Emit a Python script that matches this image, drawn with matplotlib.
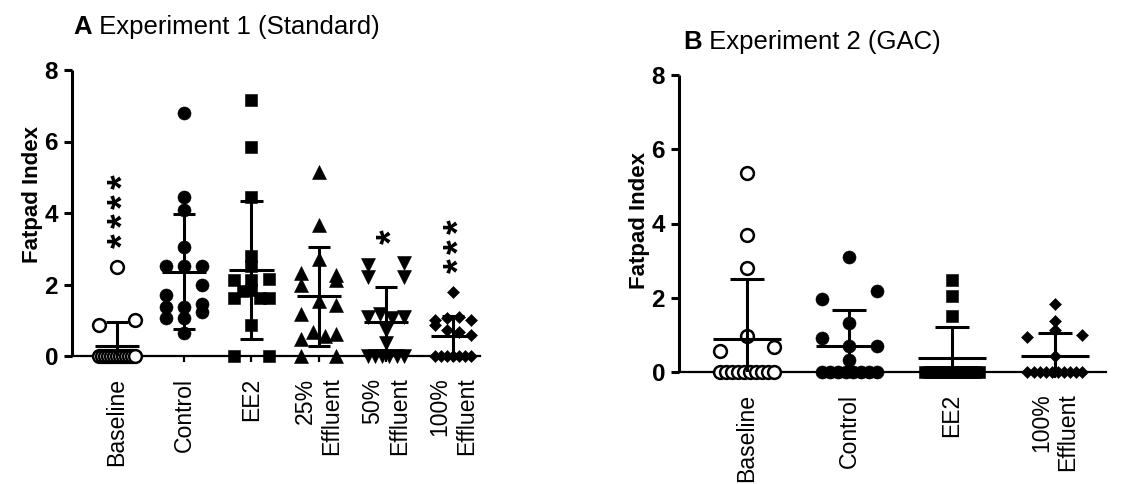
import numpy as np
import matplotlib
matplotlib.use("Agg")
import matplotlib.pyplot as plt

plt.rcParams["font.family"] = ["Liberation Sans", "DejaVu Sans"]

# ---------------- Experiment 1 (standard) ----------------
LABELS_A = ["Baseline", "Control", "EE2", "25%\nEffluent", "50%\nEffluent", "100%\nEffluent"]
BASELINE_A = [2.50, 0.87, 1.00, 0.0, 0.0, 0.0, 0.0, 0.0, 0.0, 0.0, 0.0, 0.0, 0.0, 0.0, 0.0, 0.0]
CONTROL_A = [6.79, 4.44, 4.08, 3.04, 2.53, 2.53, 2.53, 1.71, 1.98, 1.38, 1.38, 1.45,
             1.05, 1.05, 1.24, 0.63]
EE2_A = [7.16, 5.86, 4.44, 2.53, 2.81, 2.12, 2.12, 2.15, 1.61, 1.81, 1.85, 1.61, 1.61,
         0.87, 0.0, 0.0]
EFF25_A = [5.16, 3.66, 2.70, 2.31, 1.99, 2.13, 2.27, 1.54, 1.17, 1.43, 0.47, 0.68, 0.57,
           0.61, 0.0, 0.0]
EFF50_A = [2.55, 2.61, 2.22, 2.22, 1.10, 1.17, 1.05, 1.10, 0.73, 0.36,
           0.0, 0.0, 0.0, 0.0, 0.0, 0.0]
EFF100_A = [1.78, 1.00, 1.05, 1.10, 1.02, 0.87, 0.73, 0.68, 0.60,
            0.0, 0.0, 0.0, 0.0, 0.0, 0.0, 0.0]
SIG_A = ["****", "", "", "", "*", "***"]

# ---------------- Experiment 2 (GAC) ----------------
LABELS_B = ["Baseline", "Control", "EE2", "100%\nEffluent"]
BASELINE_B = [5.36, 3.69, 2.79, 0.98, 0.57, 0.66,
              0.0, 0.0, 0.0, 0.0, 0.0, 0.0, 0.0, 0.0, 0.0, 0.0]
CONTROL_B = [3.11, 1.97, 2.17, 1.31, 0.92, 0.71, 0.71, 0.31,
             0.0, 0.0, 0.0, 0.0, 0.0, 0.0, 0.0, 0.0]
EE2_B = [2.48, 2.05, 1.51, 0.0, 0.0, 0.0, 0.0, 0.0, 0.0, 0.0, 0.0, 0.0, 0.0, 0.0, 0.0, 0.0]
EFF100_B = [1.82, 1.37, 0.95, 1.13, 1.00, 0.43,
            0.0, 0.0, 0.0, 0.0, 0.0, 0.0, 0.0, 0.0, 0.0, 0.0]

Y_TICKS = [0, 2, 4, 6, 8]

# marker styles per group: (marker, size, open)
STYLE_A = [("o", 9.2, True), ("o", 9.4, False), ("s", 8.5, False),
           ("^", 9.4, False), ("v", 9.4, False), ("D", 6.2, False)]
STYLE_B = [("o", 9.2, True), ("o", 9.4, False), ("s", 8.5, False), ("D", 6.2, False)]

LW = 2.2
HALF_SPREAD = 0.265   # max horizontal spread of points within a column
ROW_PX = 10.0         # vertical height of a row bin, pixels

fig = plt.figure(figsize=(11.21, 4.84), dpi=100)
W, H = 1121, 484


def row_offsets(ax, vals):
    """Scatter-dot layout: points closer than ROW_PX share a row and are
    spread evenly across the column width."""
    vals = np.asarray(vals, float)
    ypx = ax.transData.transform(np.column_stack([np.zeros_like(vals), vals]))[:, 1]
    order = np.argsort(ypx, kind="stable")
    bins, cur = [], []
    for i in order:
        if cur and ypx[i] - ypx[cur[0]] > ROW_PX:
            bins.append(cur)
            cur = []
        cur.append(i)
    if cur:
        bins.append(cur)
    offs = np.zeros_like(vals)
    for b in bins:
        b = sorted(b)
        if len(b) > 1:
            offs[b] = np.linspace(-HALF_SPREAD, HALF_SPREAD, len(b))
    return offs


def panel(rect, groups, labels, styles, xlim, sig=None, ylab_pos=(-0.08, 0.5)):
    ax = fig.add_axes(rect)
    ax.set_xlim(*xlim)
    ax.set_ylim(0, 8)
    for s in ("top", "right"):
        ax.spines[s].set_visible(False)
    ax.spines["left"].set_linewidth(LW)
    ax.spines["bottom"].set_linewidth(1.6)
    ax.spines["left"].set_capstyle("butt")

    for i, (vals, (mk, ms, hollow)) in enumerate(zip(groups, styles)):
        vals = np.asarray(vals, float)
        xs = i + row_offsets(ax, vals)
        ax.plot(xs, vals, linestyle="none", marker=mk, markersize=ms,
                markerfacecolor="white" if hollow else "black",
                markeredgecolor="black", markeredgewidth=1.8 if hollow else 0.4,
                clip_on=False, zorder=3)
        m = vals.mean()
        sd = vals.std(ddof=1)
        ax.vlines(i, m - sd, m + sd, color="black", lw=LW, zorder=4)
        ax.hlines([m - sd, m + sd], i - 0.165, i + 0.165, color="black", lw=LW, zorder=4)
        ax.hlines(m, i - 0.33, i + 0.33, color="black", lw=LW, zorder=4)
        if sig and sig[i]:
            top = vals.max()
            for k in range(len(sig[i])):
                ax.annotate("*", xy=(i, top), xytext=(12.5, 19 + 14 * k),
                            textcoords="offset points", rotation=90,
                            rotation_mode="anchor", ha="center", va="baseline",
                            fontsize=27, fontweight="bold", annotation_clip=False)

    ax.set_yticks(Y_TICKS)
    ax.set_yticklabels([str(t) for t in Y_TICKS], fontweight="bold", fontsize=17.5)
    ax.tick_params(axis="y", length=6, width=LW, pad=4)
    ax.set_xticks(range(len(labels)))
    ax.set_xticklabels(labels, rotation=90, fontsize=16.6, ha="center", va="top",
                       multialignment="right")
    ax.tick_params(axis="x", length=4.5, width=1.6, pad=11)
    ax.set_ylabel("Fatpad Index", fontweight="bold", fontsize=16)
    ax.yaxis.set_label_coords(*ylab_pos)
    return ax


axA = panel([72 / W, 1 - 356 / H, 408 / W, 286 / H],
            [BASELINE_A, CONTROL_A, EE2_A, EFF25_A, EFF50_A, EFF100_A],
            LABELS_A, STYLE_A, (-0.67, 5.4), sig=SIG_A, ylab_pos=(-0.072, 0.566))
axB = panel([679 / W, 1 - 372 / H, 427 / W, 297 / H],
            [BASELINE_B, CONTROL_B, EE2_B, EFF100_B],
            LABELS_B, STYLE_B, (-0.66, 3.5), ylab_pos=(-0.068, 0.51))


def title(x_px, y_px, letter, text):
    t = fig.text(x_px / W, 1 - y_px / H, letter, fontweight="bold", fontsize=18.5,
                 ha="left", va="center")
    an = fig.axes[0].annotate(text, xy=(1, 0), xycoords=t, ha="left", va="bottom",
                              fontsize=18.5, annotation_clip=False)
    return an


title(73, 27, "A", " Experiment 1 (Standard)")
title(683, 42, "B", " Experiment 2 (GAC)")

fig.savefig("out.png", dpi=100)
